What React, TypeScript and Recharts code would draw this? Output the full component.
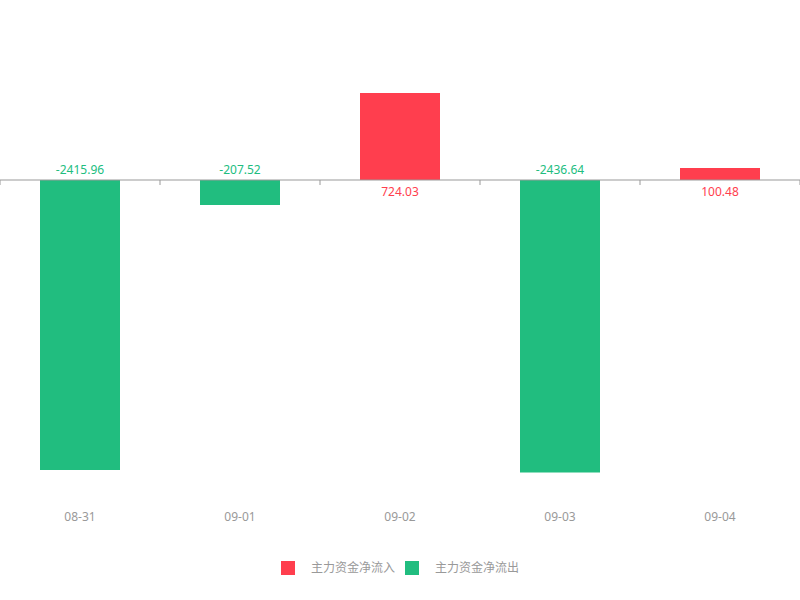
import React from 'react';
import { BarChart, Bar, XAxis, YAxis, ReferenceLine, Legend } from 'recharts';

const categories = ['08-31', '09-01', '09-02', '09-03', '09-04'];
const inflowValues: (number | null)[] = [null, null, 724.03, null, 100.48];
const outflowValues: (number | null)[] = [-2415.96, -207.52, null, -2436.64, null];
const seriesNames = ['主力资金净流入', '主力资金净流出'];
const seriesColors = ['#ff3e4e', '#21bd7f'];
const yDomain: [number, number] = [-2700, 1000];

const data = categories.map((c, i) => ({
  date: c,
  inflow: inflowValues[i],
  outflow: outflowValues[i],
}));

const FONT = '"Noto Sans", "Noto Sans CJK SC", sans-serif';

const makeLabel = (color: string) => (props: any) => {
  const { x, y, width, height, value } = props;
  if (value === null || value === undefined) return null;
  const zero = y + height;
  const cx = x + width / 2;
  const ty = value < 0 ? zero - 6 : zero + 15.5;
  return (
    <text x={cx} y={ty} textAnchor="middle" fill={color} fontSize={12} fontFamily={FONT}>
      {Number(value).toFixed(2)}
    </text>
  );
};

const ZeroLine = (props: any) => {
  const { x1, x2, y1 } = props;
  const n = categories.length;
  const step = (x2 - x1) / n;
  const ticks = [];
  for (let i = 0; i <= n; i++) {
    const tx = x1 + step * i;
    ticks.push(<line key={i} x1={tx} x2={tx} y1={y1} y2={y1 + 5} stroke="#999" strokeWidth={1} />);
  }
  return (
    <g>
      <line x1={x1} x2={x2} y1={y1} y2={y1} stroke="#999" strokeWidth={1} />
      {ticks}
    </g>
  );
};

const LegendContent = () => (
  <div style={{ display: 'flex', justifyContent: 'center', alignItems: 'center', height: 14, fontFamily: FONT }}>
    {seriesNames.map((name, i) => (
      <div key={name} style={{ display: 'flex', alignItems: 'center', marginLeft: i === 0 ? 0 : 10 }}>
        <div style={{ width: 14, height: 14, background: seriesColors[i] }} />
        <span style={{ marginLeft: 16, fontSize: 12, color: '#999', lineHeight: '14px' }}>{name}</span>
      </div>
    ))}
  </div>
);

export default function App() {
  return (
    <div style={{ position: 'absolute', left: 0, top: 0, width: 800, height: 600, background: '#fff' }}>
      <BarChart width={800} height={600} data={data} margin={{ top: 60, right: 0, bottom: 25, left: 0 }}>
        <XAxis
          dataKey="date"
          axisLine={false}
          tickLine={false}
          height={57}
          tick={{ fill: '#999', fontSize: 12, fontFamily: FONT }}
        />
        <YAxis hide domain={yDomain} type="number" allowDataOverflow />
        <ReferenceLine y={0} shape={ZeroLine} />
        <Bar dataKey="inflow" name={seriesNames[0]} stackId="a" fill={seriesColors[0]} barSize={80} isAnimationActive={false} label={makeLabel(seriesColors[0])} />
        <Bar dataKey="outflow" name={seriesNames[1]} stackId="a" fill={seriesColors[1]} barSize={80} isAnimationActive={false} label={makeLabel(seriesColors[1])} />
        <Legend verticalAlign="bottom" content={LegendContent} />
      </BarChart>
    </div>
  );
}
